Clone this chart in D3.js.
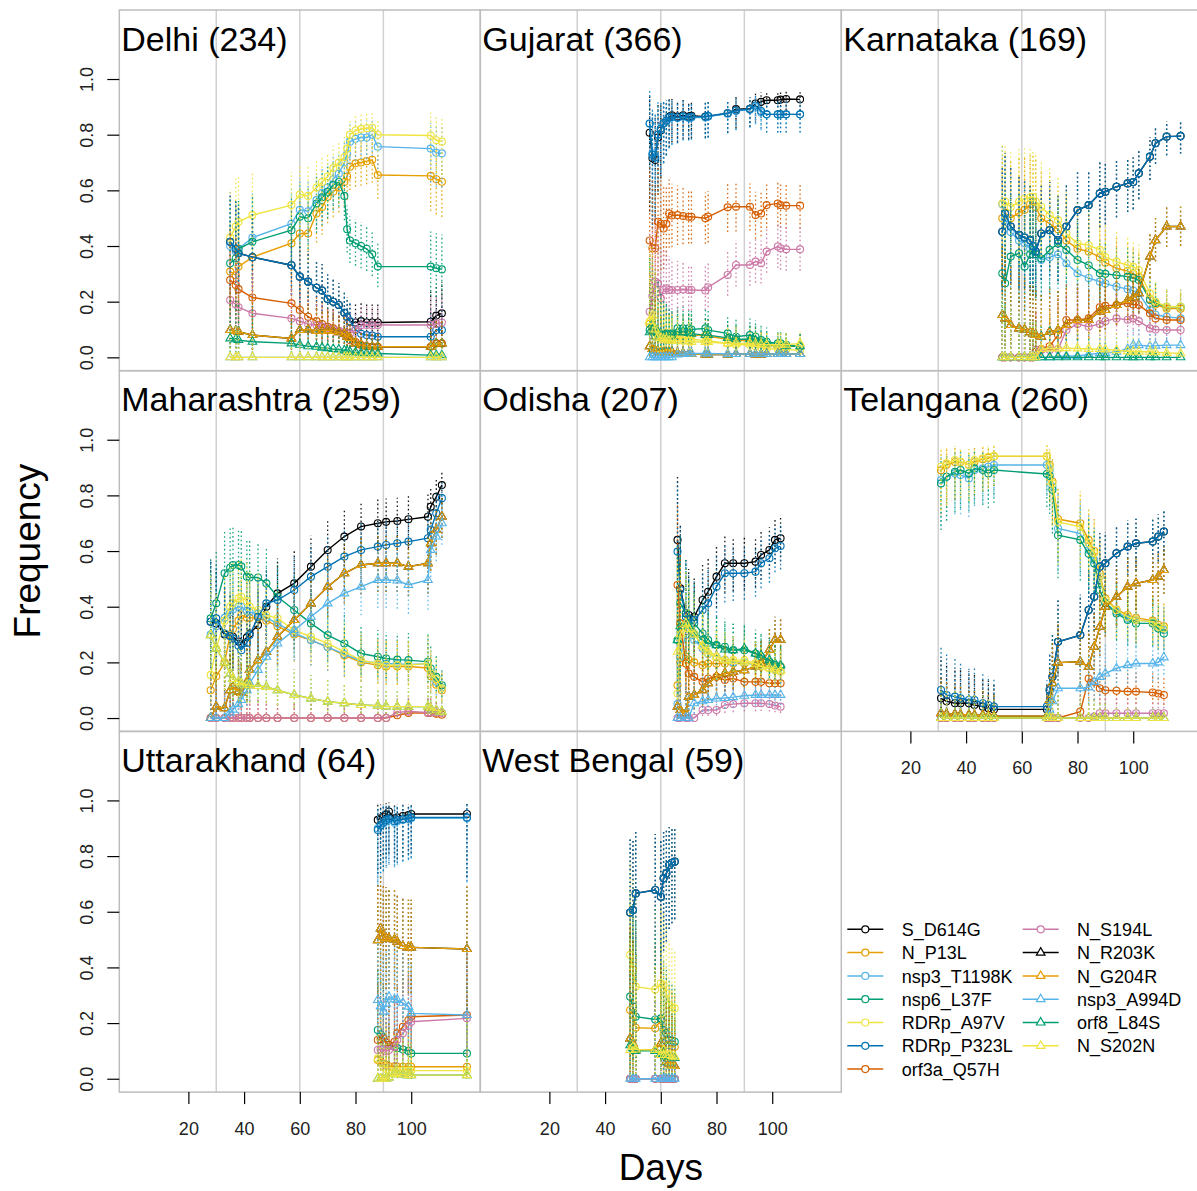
<!DOCTYPE html>
<html>
<head>
<meta charset="utf-8">
<script src="https://cdn.jsdelivr.net/npm/d3@7"></script>
<style>
  body { margin: 0; background: #fff; }
  svg { display: block; font-family: "Liberation Sans", Arial, Helvetica, sans-serif; }
</style>
</head>
<body>
<svg id="chart" width="1197" height="1191"></svg>
<script>
// series, in legend order (first 8 = circles, rest = triangles)
const mutations = ["S_D614G", "N_P13L", "nsp3_T1198K", "nsp6_L37F", "RDRp_A97V", "RDRp_P323L", "orf3a_Q57H",
  "N_S194L", "N_R203K", "N_G204R", "nsp3_A994D", "orf8_L84S", "N_S202N"];
const palette = ["#000000", "#E69F00", "#56B4E9", "#009E73", "#F0E442", "#0072B2", "#D55E00", "#CC79A7"];
const xTicks = [20, 40, 60, 80, 100];
const yTicks = [0, 0.2, 0.4, 0.6, 0.8, 1.0];
const gridDays = [30, 60, 90];

// ---- Delhi
const delhiDays = [35, 37, 38, 43, 57, 60, 63, 66, 68, 70, 72, 74, 76, 77, 78, 80, 82, 84, 86, 88, 107, 109, 111];
const delhiN = [30, 30, 32, 35, 60, 70, 75, 85, 95, 105, 115, 120, 125, 130, 130, 130, 130, 130, 130, 130, 60, 60, 60];
const delhiFreq = [
  [.415, .39, .374, .36, .331, .29, .272, .25, .24, .21, .2, .188, .16, .145, .128, .125, .13, .125, .125, .125, .128, .15, .158],
  [.308, .295, .326, .36, .41, .445, .445, .517, .54, .577, .595, .61, .63, .65, .685, .697, .7, .705, .71, .655, .652, .64, .631],
  [.4, .38, .39, .43, .48, .53, .525, .565, .59, .61, .64, .66, .7, .73, .775, .785, .79, .79, .8, .757, .75, .735, .733],
  [.338, .355, .39, .415, .457, .505, .5, .553, .575, .595, .62, .63, .58, .46, .42, .41, .4, .39, .37, .326, .326, .32, .316],
  [.43, .47, .487, .511, .547, .585, .58, .61, .63, .65, .68, .7, .72, .75, .8, .815, .82, .823, .825, .8, .797, .78, .775],
  [.415, .39, .374, .36, .331, .29, .272, .25, .24, .21, .2, .188, .16, .145, .13, .1, .085, .08, .078, .074, .074, .098, .098],
  [.278, .26, .245, .215, .194, .17, .146, .13, .12, .11, .104, .095, .085, .075, .062, .055, .044, .04, .038, .038, .038, .05, .05],
  [.206, .19, .18, .158, .14, .13, .12, .115, .11, .104, .1, .095, .09, .088, .086, .1, .115, .116, .115, .116, .116, .12, .125],
  [.098, .095, .092, .08, .068, .098, .1, .095, .095, .098, .095, .09, .085, .075, .07, .05, .045, .04, .038, .038, .038, .05, .05],
  [.098, .095, .092, .08, .068, .098, .1, .095, .095, .098, .095, .09, .085, .075, .07, .05, .045, .04, .038, .038, .038, .05, .05],
  [0, 0, 0, 0, 0, 0, 0, 0, 0, 0, 0, 0, 0, 0, 0, 0, 0, 0, 0, 0, 0, 0, 0],
  [.068, .065, .062, .056, .05, .045, .04, .038, .035, .033, .03, .028, .025, .022, .02, .018, .016, .015, .014, .014, .008, .008, .008],
  [0, 0, 0, 0, 0, 0, 0, 0, 0, 0, 0, 0, 0, 0, 0, 0, 0, 0, 0, 0, 0, 0, 0]
];

// ---- Gujarat
const gujaratDays = [56, 57, 58, 59, 60, 61, 62, 63, 64, 66, 68, 70, 71, 76, 77, 84, 87, 92, 94, 96, 98, 102, 103, 105, 110];
const gujaratN = [12, 15, 18, 22, 30, 40, 50, 60, 70, 80, 90, 100, 100, 110, 110, 120, 120, 130, 130, 140, 140, 140, 140, 140, 140];
const gujaratFreq = [
  [.807, .715, .709, .79, .815, .84, .85, .864, .87, .865, .87, .865, .868, .865, .866, .877, .892, .893, .912, .918, .924, .924, .926, .928, .927],
  [.12, .1, .09, .08, .075, .07, .07, .065, .07, .08, .08, .08, .08, .078, .076, .065, .06, .06, .055, .05, .045, .04, .04, .04, .04],
  [.84, .733, .721, .8, .82, .84, .848, .86, .862, .86, .864, .86, .862, .862, .865, .875, .885, .89, .9, .88, .873, .873, .873, .873, .873],
  [.098, .09, .075, .08, .075, .08, .086, .08, .086, .104, .104, .104, .1, .104, .098, .086, .074, .08, .074, .062, .056, .05, .05, .045, .038],
  [.128, .16, .1, .09, .08, .07, .075, .07, .07, .075, .07, .07, .065, .06, .06, .05, .045, .045, .04, .035, .03, .03, .03, .028, .025],
  [.84, .728, .718, .8, .822, .842, .85, .862, .864, .862, .866, .862, .864, .864, .867, .877, .887, .892, .905, .885, .873, .873, .873, .873, .873],
  [.42, .392, .392, .487, .48, .463, .48, .517, .51, .511, .508, .505, .505, .5, .505, .539, .541, .541, .511, .517, .547, .553, .547, .545, .545],
  [.164, .22, .272, .265, .212, .242, .248, .242, .242, .242, .244, .242, .242, .24, .252, .296, .332, .332, .344, .338, .38, .398, .392, .388, .388],
  [.04, .03, .025, .02, .02, .02, .018, .02, .02, .015, .015, .012, .012, .01, .01, .01, .012, .012, .01, .01, .012, .012, .012, .012, .012],
  [.04, .03, .025, .02, .02, .02, .018, .02, .02, .015, .015, .012, .012, .01, .01, .01, .012, .012, .01, .01, .012, .012, .012, .012, .012],
  [0, 0, 0, 0, 0, 0, 0, 0, 0, .01, .012, .014, .014, .014, .014, .012, .012, .012, .012, .012, .012, .012, .012, .012, .012],
  [.09, .12, .1, .09, .085, .08, .08, .075, .078, .09, .09, .088, .085, .08, .08, .07, .065, .065, .06, .055, .05, .045, .045, .042, .04],
  [.13, .15, .1, .075, .07, .065, .065, .06, .06, .06, .058, .058, .055, .055, .055, .05, .05, .05, .048, .046, .045, .045, .045, .045, .05]
];

// ---- Karnataka
const karnatakaDays = [53, 54, 56, 59, 61, 63, 64, 65, 67, 70, 73, 76, 80, 84, 88, 90, 94, 98, 100, 102, 106, 108, 112, 117];
const karnatakaN = [15, 16, 18, 20, 22, 24, 25, 26, 28, 30, 35, 40, 45, 55, 65, 70, 80, 90, 100, 110, 130, 150, 170, 190];
const karnatakaFreq = [
  [.451, .517, .47, .44, .43, .421, .4, .38, .445, .457, .421, .47, .529, .547, .589, .595, .613, .625, .63, .661, .721, .769, .793, .795],
  [.5, .52, .5, .52, .53, .55, .56, .54, .5, .48, .46, .42, .39, .38, .36, .34, .32, .31, .3, .29, .21, .19, .175, .175],
  [.55, .5, .45, .42, .41, .39, .386, .37, .35, .36, .37, .338, .302, .285, .272, .265, .254, .245, .24, .23, .17, .153, .146, .14],
  [.302, .266, .362, .374, .326, .37, .386, .37, .355, .386, .409, .386, .35, .331, .302, .3, .295, .29, .285, .278, .206, .195, .182, .182],
  [.553, .56, .54, .559, .57, .575, .577, .56, .54, .511, .493, .445, .409, .403, .386, .36, .344, .331, .325, .314, .23, .2, .182, .182],
  [.451, .517, .47, .44, .43, .421, .4, .38, .445, .457, .421, .47, .529, .547, .589, .595, .613, .625, .63, .661, .721, .769, .793, .795],
  [0, 0, 0, 0, 0, 0, 0, .02, .03, .04, .08, .134, .134, .14, .18, .185, .188, .194, .19, .188, .158, .14, .134, .134],
  [0, 0, 0, 0, 0, 0, 0, .026, .026, .026, .03, .098, .12, .11, .12, .13, .14, .135, .14, .13, .104, .1, .098, .098],
  [.152, .14, .116, .104, .1, .09, .085, .08, .074, .092, .098, .116, .134, .134, .164, .17, .188, .206, .215, .23, .362, .421, .47, .47],
  [.152, .14, .116, .104, .1, .09, .085, .08, .074, .092, .098, .116, .134, .134, .164, .17, .188, .206, .215, .23, .362, .421, .47, .47],
  [0, 0, 0, 0, 0, 0, 0, 0, 0, 0, .003, .005, .005, .01, .015, .015, .02, .03, .044, .044, .04, .042, .044, .044],
  [0, 0, 0, 0, 0, 0, 0, 0, 0, 0, 0, 0, 0, 0, 0, 0, 0, 0, 0, 0, 0, 0, 0, 0],
  [0, 0, 0, 0, 0, 0, 0, 0, .03, .032, .032, .033, .032, .03, .03, .028, .026, .022, .02, .02, .02, .018, .016, .014]
];

// ---- Maharashtra
const maharashtraDays = [28, 30, 33, 35, 36, 38, 39, 41, 42, 45, 48, 52, 58, 64, 70, 76, 82, 88, 91, 95, 99, 106, 107, 109, 111];
const maharashtraN = [20, 25, 35, 40, 45, 48, 50, 50, 52, 55, 58, 60, 65, 70, 75, 80, 85, 90, 90, 90, 85, 80, 100, 120, 150];
const maharashtraFreq = [
  [.346, .34, .3, .295, .292, .275, .268, .29, .304, .334, .4, .448, .484, .544, .604, .652, .688, .7, .705, .708, .714, .723, .759, .795, .837],
  [.1, .15, .2, .3, .32, .35, .37, .36, .36, .36, .35, .33, .3, .28, .255, .225, .2, .19, .185, .185, .185, .18, .15, .12, .1],
  [.3, .33, .36, .38, .39, .4, .4, .385, .38, .375, .36, .34, .305, .28, .255, .23, .205, .198, .195, .195, .192, .196, .16, .13, .11],
  [.358, .412, .52, .54, .55, .55, .545, .508, .505, .505, .484, .436, .388, .34, .298, .268, .232, .22, .214, .21, .208, .202, .178, .148, .118],
  [.155, .25, .35, .4, .412, .43, .436, .42, .4, .388, .37, .358, .316, .292, .268, .238, .208, .196, .19, .19, .19, .196, .16, .14, .107],
  [.346, .358, .304, .295, .286, .26, .244, .27, .298, .364, .412, .424, .46, .508, .544, .58, .604, .616, .622, .628, .634, .646, .676, .736, .79],
  [0, 0, 0, 0, 0, 0, 0, 0, 0, 0, 0, 0, 0, 0, 0, 0, 0, 0, 0, .01, .018, .018, .02, .015, .012],
  [0, 0, 0, 0, 0, 0, 0, 0, 0, 0, 0, 0, 0, 0, 0, 0, 0, 0, 0, .02, .024, .02, .02, .02, .018],
  [0, .041, .035, .1, .112, .095, .09, .13, .173, .208, .238, .292, .352, .412, .472, .52, .55, .556, .556, .556, .544, .556, .628, .676, .724],
  [0, .041, .035, .1, .112, .095, .09, .13, .173, .208, .238, .292, .352, .412, .472, .52, .55, .556, .556, .556, .544, .556, .628, .676, .724],
  [0, 0, 0, .02, .03, .05, .065, .1, .125, .173, .22, .268, .316, .364, .412, .448, .472, .496, .496, .494, .478, .496, .604, .652, .7],
  [.298, .25, .2, .16, .14, .13, .125, .12, .118, .115, .112, .1, .083, .07, .059, .053, .047, .044, .042, .041, .041, .041, .035, .028, .023],
  [.298, .25, .2, .16, .14, .13, .125, .12, .118, .115, .112, .1, .083, .07, .059, .053, .047, .044, .042, .041, .041, .041, .035, .028, .023]
];

// ---- Odisha
const odishaDays = [66, 67, 69, 70, 72, 75, 77, 80, 83, 86, 90, 94, 96, 99, 101, 103];
const odishaN = [8, 15, 25, 35, 45, 55, 65, 75, 85, 95, 105, 115, 120, 125, 130, 135];
const odishaFreq = [
  [.64, .466, .376, .37, .364, .424, .454, .508, .556, .556, .556, .562, .586, .604, .64, .646],
  [.118, .2, .22, .21, .2, .19, .196, .196, .196, .196, .196, .196, .196, .196, .19, .185],
  [.05, .22, .3, .3, .28, .25, .23, .22, .21, .2, .2, .19, .185, .18, .175, .17],
  [.28, .412, .376, .34, .34, .304, .28, .262, .256, .244, .244, .232, .22, .202, .19, .184],
  [.088, .244, .34, .32, .304, .256, .232, .22, .208, .208, .208, .196, .184, .178, .172, .166],
  [.598, .46, .364, .358, .352, .388, .412, .472, .52, .52, .52, .526, .556, .574, .61, .618],
  [.478, .34, .196, .16, .148, .13, .142, .148, .137, .142, .13, .13, .13, .125, .125, .125],
  [0, 0, 0, 0, 0, .029, .029, .029, .047, .05, .053, .053, .053, .05, .045, .041],
  [.041, .029, .017, .077, .083, .1, .125, .148, .161, .166, .172, .185, .196, .245, .281, .281],
  [.041, .029, .017, .077, .083, .1, .125, .148, .161, .166, .172, .185, .196, .245, .281, .281],
  [0, 0, 0, 0, .053, .06, .065, .07, .072, .075, .08, .083, .083, .083, .083, .083],
  [.28, .33, .34, .33, .304, .28, .268, .262, .246, .244, .25, .232, .226, .208, .196, .19],
  [.238, .3, .34, .32, .3, .26, .24, .22, .21, .205, .2, .195, .185, .18, .175, .17]
];

// ---- Telangana
const telanganaDays = [31, 33, 36, 38, 41, 43, 46, 48, 50, 69, 70, 71, 73, 81, 84, 86, 88, 90, 94, 98, 101, 107, 109, 111];
const telanganaN = [30, 32, 35, 38, 40, 42, 44, 46, 48, 50, 40, 35, 40, 45, 50, 55, 60, 70, 80, 90, 100, 110, 120, 130];
const telanganaFreq = [
  [.071, .06, .053, .053, .053, .047, .041, .035, .031, .031, .101, .148, .274, .298, .388, .436, .544, .556, .592, .616, .628, .634, .652, .67],
  [.89, .91, .92, .92, .91, .92, .93, .935, .94, .94, .91, .85, .715, .7, .64, .6, .52, .43, .39, .37, .36, .35, .335, .33],
  [.855, .867, .879, .873, .861, .891, .897, .903, .909, .909, .891, .831, .681, .663, .604, .568, .508, .412, .382, .358, .352, .346, .328, .316],
  [.843, .867, .885, .891, .879, .897, .891, .879, .891, .877, .87, .82, .657, .64, .59, .555, .46, .412, .376, .352, .34, .34, .322, .304],
  [.903, .915, .927, .921, .909, .927, .933, .939, .941, .941, .903, .843, .705, .687, .628, .592, .508, .424, .388, .364, .352, .346, .328, .322],
  [.101, .083, .077, .071, .065, .065, .053, .047, .041, .041, .101, .148, .274, .298, .388, .436, .544, .556, .592, .616, .628, .634, .652, .67],
  [0, 0, 0, 0, 0, 0, 0, 0, 0, 0, 0, 0, 0, .023, .142, .13, .107, .1, .098, .095, .095, .092, .088, .083],
  [0, 0, 0, 0, 0, 0, 0, 0, 0, 0, 0, 0, 0, 0, 0, .005, .017, .017, .017, .017, .017, .017, .017, .017],
  [.017, .015, .015, .012, .012, .01, .01, .008, .007, .007, .065, .125, .199, .202, .184, .256, .328, .4, .436, .472, .484, .496, .508, .532],
  [.017, .015, .015, .012, .012, .01, .01, .008, .007, .007, .065, .125, .199, .202, .184, .256, .328, .4, .436, .472, .484, .496, .508, .532],
  [0, 0, 0, 0, 0, 0, 0, 0, 0, 0, .03, .06, .107, .107, .11, .13, .148, .16, .179, .19, .196, .196, .2, .218],
  [0, 0, 0, 0, 0, 0, 0, 0, 0, 0, 0, 0, 0, 0, 0, 0, 0, 0, 0, 0, 0, 0, 0, 0],
  [0, 0, 0, 0, 0, 0, 0, 0, 0, 0, 0, 0, 0, 0, 0, 0, 0, 0, 0, 0, 0, 0, 0, 0]
];

// ---- Uttarakhand
const uttarakhandDays = [88, 89, 90, 91, 92, 94, 95, 97, 99, 100, 120];
const uttarakhandN = [20, 22, 24, 25, 26, 27, 28, 29, 30, 30, 15];
const uttarakhandFreq = [
  [.93, .936, .942, .95, .96, .936, .939, .944, .947, .951, .951],
  [.067, .06, .055, .05, .045, .045, .043, .043, .043, .043, .043],
  [.9, .91, .92, .925, .93, .92, .925, .93, .932, .936, .936],
  [.175, .16, .15, .13, .121, .115, .11, .105, .1, .091, .091],
  [.073, .06, .045, .035, .03, .029, .029, .029, .029, .029, .029],
  [.894, .91, .92, .93, .935, .925, .93, .932, .935, .939, .939],
  [.139, .142, .145, .13, .121, .133, .163, .187, .211, .223, .229],
  [.103, .105, .107, .1, .103, .115, .14, .163, .19, .205, .217],
  [.498, .54, .51, .506, .504, .5, .492, .477, .472, .472, .466],
  [.498, .54, .51, .506, .504, .5, .492, .477, .472, .472, .466],
  [.283, .26, .241, .27, .295, .285, .283, .273, .259, .235, .229],
  [0, 0, 0, 0, .005, .02, .017, .015, .013, .013, .013],
  [0, 0, 0, 0, .005, .02, .017, .015, .013, .013, .013]
];

// ---- West Bengal
const westBengalDays = [49, 50, 51, 58, 60, 61, 62, 63, 64, 65];
const westBengalN = [6, 7, 8, 10, 12, 14, 16, 18, 20, 22];
const westBengalFreq = [
  [.597, .606, .666, .678, .654, .72, .738, .768, .776, .78],
  [.247, .229, .183, .181, .21, .157, .139, .121, .115, .115],
  [0, 0, 0, 0, 0, 0, 0, 0, 0, 0],
  [.295, .259, .223, .213, .217, .175, .163, .139, .137, .133],
  [.445, .391, .331, .321, .343, .337, .307, .265, .257, .253],
  [.597, .606, .666, .678, .654, .72, .738, .768, .776, .78],
  [0, 0, 0, 0, 0, 0, 0, 0, 0, 0],
  [0, 0, 0, 0, 0, 0, 0, 0, 0, 0],
  [.145, .127, .105, .103, .127, .097, .061, .055, .049, .046],
  [.145, .127, .105, .103, .127, .097, .061, .055, .049, .046],
  [0, 0, 0, 0, 0, 0, 0, 0, 0, 0],
  [.12, .11, .1, .1, .09, .09, .08, .08, .08, .075],
  [.103, .115, .105, .103, .085, .103, .085, .085, .082, .079]
];

const panels = [
  { title: "Delhi (234)", days: delhiDays, n: delhiN, freq: delhiFreq, col: 0, row: 0 },
  { title: "Gujarat (366)", days: gujaratDays, n: gujaratN, freq: gujaratFreq, col: 1, row: 0 },
  { title: "Karnataka (169)", days: karnatakaDays, n: karnatakaN, freq: karnatakaFreq, col: 2, row: 0 },
  { title: "Maharashtra (259)", days: maharashtraDays, n: maharashtraN, freq: maharashtraFreq, col: 0, row: 1 },
  { title: "Odisha (207)", days: odishaDays, n: odishaN, freq: odishaFreq, col: 1, row: 1 },
  { title: "Telangana (260)", days: telanganaDays, n: telanganaN, freq: telanganaFreq, col: 2, row: 1, xAxis: true },
  { title: "Uttarakhand (64)", days: uttarakhandDays, n: uttarakhandN, freq: uttarakhandFreq, col: 0, row: 2, xAxis: true },
  { title: "West Bengal (59)", days: westBengalDays, n: westBengalN, freq: westBengalFreq, col: 1, row: 2, xAxis: true }
];

const svg = d3.select("#chart");
const gridLeft = 119.3, gridTop = 10, pw = 361, ph = 360.7;

// xlim c(0,120) and ylim c(0,1.2) with R's 4% padding
const x = d3.scaleLinear().domain([-4.8, 124.8]).range([0, pw]);
const y = d3.scaleLinear().domain([-0.048, 1.248]).range([ph, 0]);

// Wilson score interval for the error bars
const wilson = (p, n) => {
  const z2 = 1.96 * 1.96, den = 1 + z2 / n;
  const c = (p + z2 / (2 * n)) / den;
  const h = 1.96 * Math.sqrt(p * (1 - p) / n + z2 / (4 * n * n)) / den;
  return [Math.max(0, c - h), Math.min(1, c + h)];
};

svg.append("defs").append("clipPath").attr("id", "plotClip")
  .append("rect").attr("width", pw).attr("height", ph);

panels.forEach(pd => {
  const g = svg.append("g")
    .attr("transform", `translate(${gridLeft + pd.col * pw},${gridTop + pd.row * ph})`);

  g.selectAll(".grid").data(gridDays).join("line")
    .attr("x1", d => x(d)).attr("x2", d => x(d))
    .attr("y1", 0).attr("y2", ph)
    .attr("stroke", "#d0d0d0").attr("stroke-width", 1.5);

  const plot = g.append("g").attr("clip-path", "url(#plotClip)");

  pd.freq.forEach((vals, s) => {
    const col = palette[s % 8];
    const pts = pd.days.map((d, i) => {
      const ci = wilson(vals[i], pd.n[i]);
      return { day: d, v: vals[i], lo: ci[0], hi: ci[1] };
    });

    plot.append("g")
      .attr("stroke", col).attr("stroke-width", 1.3)
      .attr("stroke-dasharray", "1.6,2.6").attr("opacity", 0.9)
      .selectAll("line").data(pts).join("line")
      .attr("x1", p => x(p.day)).attr("x2", p => x(p.day))
      .attr("y1", p => y(p.lo)).attr("y2", p => y(p.hi));

    plot.append("path").datum(pts)
      .attr("fill", "none").attr("stroke", col).attr("stroke-width", 1.4)
      .attr("d", d3.line().x(p => x(p.day)).y(p => y(p.v)));

    if (s < 8) {
      plot.append("g").selectAll("circle").data(pts).join("circle")
        .attr("cx", p => x(p.day)).attr("cy", p => y(p.v)).attr("r", 3.5)
        .attr("fill", "none").attr("stroke", col).attr("stroke-width", 1.1);
    } else {
      const tri = d3.symbol(d3.symbolTriangle).size(32);
      plot.append("g").selectAll("path").data(pts).join("path")
        .attr("transform", p => `translate(${x(p.day)},${y(p.v)})`)
        .attr("d", tri)
        .attr("fill", "none").attr("stroke", col).attr("stroke-width", 1.1);
    }
  });

  g.append("text")
    .attr("x", 2).attr("y", 40.5)
    .attr("font-size", 34).attr("fill", "#000")
    .text(pd.title);

  g.append("rect")
    .attr("width", pw).attr("height", ph)
    .attr("fill", "none").attr("stroke", "#bdbdbd").attr("stroke-width", 1.5);

  if (pd.col === 0) {
    const ay = g.append("g").call(d3.axisLeft(y).tickValues(yTicks).tickSize(12).tickFormat(d3.format(".1f")));
    ay.select(".domain").remove();
    ay.selectAll(".tick line").attr("stroke", "#000").attr("stroke-width", 1.2);
    ay.selectAll(".tick text")
      .attr("x", null).attr("dy", null)
      .attr("text-anchor", "middle")
      .attr("transform", "translate(-26,0) rotate(-90)")
      .attr("font-size", 18).attr("fill", "#222")
      .style("font-family", "Liberation Sans, Arial, sans-serif");
  }
  if (pd.xAxis) {
    const ax = g.append("g").attr("transform", `translate(0,${ph})`)
      .call(d3.axisBottom(x).tickValues(xTicks).tickSize(12));
    ax.select(".domain").remove();
    ax.selectAll(".tick line").attr("stroke", "#000").attr("stroke-width", 1.2);
    ax.selectAll(".tick text")
      .attr("y", 43).attr("dy", null)
      .attr("font-size", 18).attr("fill", "#222")
      .style("font-family", "Liberation Sans, Arial, sans-serif");
  }
});

// axis titles
svg.append("text")
  .attr("transform", `translate(40,${gridTop + 1.5 * ph}) rotate(-90)`)
  .attr("text-anchor", "middle").attr("font-size", 37).attr("fill", "#000")
  .text("Frequency");
svg.append("text")
  .attr("x", gridLeft + 1.5 * pw).attr("y", 1180)
  .attr("text-anchor", "middle").attr("font-size", 37).attr("fill", "#000")
  .text("Days");

// legend, two columns filled top to bottom
const legend = svg.append("g");
const legRows = 7, legStep = 23.3;
mutations.forEach((m, s) => {
  const col = palette[s % 8];
  const cx = s < legRows ? 847.3 : 1022.7;
  const cy = 929.3 + (s % legRows) * legStep;
  const item = legend.append("g").attr("transform", `translate(${cx},${cy})`);
  item.append("line").attr("x1", 0).attr("x2", 36)
    .attr("stroke", col).attr("stroke-width", 1.5);
  if (s < 8) {
    item.append("circle").attr("cx", 18).attr("r", 3.5)
      .attr("fill", "#fff").attr("stroke", col).attr("stroke-width", 1.2);
  } else {
    item.append("path").attr("transform", "translate(18,0)")
      .attr("d", d3.symbol(d3.symbolTriangle).size(32))
      .attr("fill", "#fff").attr("stroke", col).attr("stroke-width", 1.2);
  }
  item.append("text").attr("x", 54.4).attr("y", 6.6)
    .attr("font-size", 18).attr("fill", "#000").text(m);
});
</script>
</body>
</html>
